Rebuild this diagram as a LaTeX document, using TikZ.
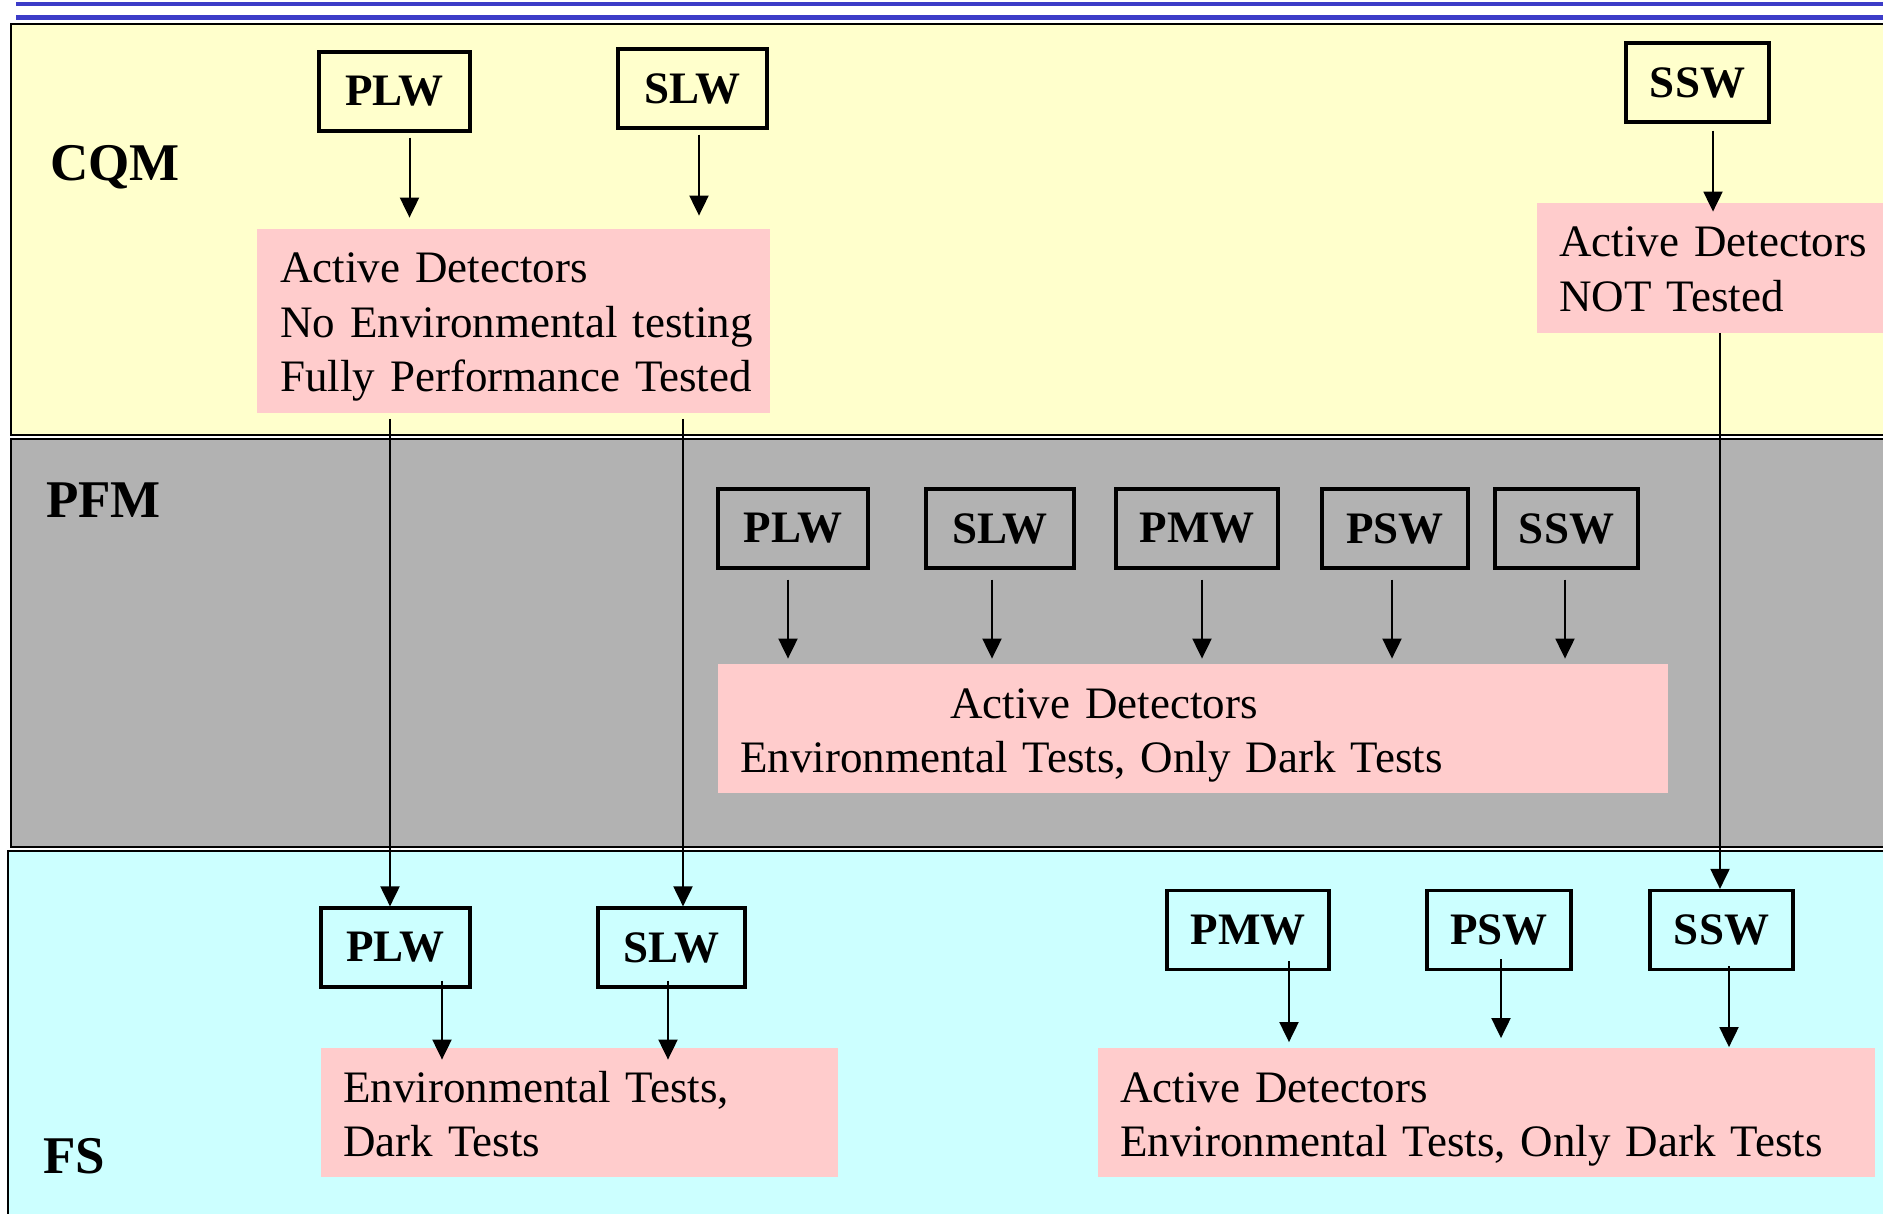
\documentclass[tikz,border=0pt]{standalone}
\usepackage{fontspec}
\setmainfont{Liberation Serif}
\usetikzlibrary{arrows.meta}

\definecolor{bandblue}{RGB}{60,60,200}
\definecolor{cqmfill}{RGB}{255,255,204}
\definecolor{pfmfill}{RGB}{178,178,178}
\definecolor{fsfill}{RGB}{204,255,255}
\definecolor{notefill}{RGB}{255,204,204}

\begin{document}
\begin{tikzpicture}[x=1pt,y=-1pt,
  panel/.style={draw=black, line width=2pt},
  unit/.style={draw=black, line width=3.2pt, minimum height=79pt, inner sep=0pt,
    font=\fontsize{45}{50}\selectfont\bfseries},
  notebox/.style={fill=notefill, anchor=north west, inner sep=0pt},
  notetext/.style={anchor=base west, align=left, inner sep=0pt, text width=#1,
    font=\fontsize{45}{54.5}\selectfont},
  phase/.style={anchor=base west, inner sep=0pt, font=\fontsize{53}{60}\selectfont\bfseries},
  flow/.style={line width=2pt, -{Triangle[length=20pt,width=19pt]}},
]
\useasboundingbox (0,0) rectangle (1883,1214);
\clip (0,0) rectangle (1883,1214);

% header rules
\draw[bandblue, line width=4.5pt] (16,4) -- (1900,4);
\draw[bandblue, line width=5pt] (16,18) -- (1900,18);

% phase bands
\draw[panel, fill=cqmfill] (11,24.5) rectangle (1910,435);
\draw[panel, fill=pfmfill] (11,439) rectangle (1910,847);
\draw[panel, fill=fsfill] (8,851) rectangle (1910,1240);

\node[phase] (lCQM) at (50,181) {CQM};
\node[phase] (lPFM) at (46,517) {PFM};
\node[phase] (lFS) at (43,1173) {FS};

% result notes
\node[notebox, minimum width=513pt, minimum height=184pt] (nCQM) at (257,229) {};
\node[notetext=480pt] (tCQM) at (280,283)
  {Active Detectors\\No Environmental testing\\Fully Performance Tested};

\node[notebox, minimum width=380pt, minimum height=130pt] (nCQMs) at (1537,203) {};
\node[notetext=320pt] (tCQMs) at (1559,257)
  {Active Detectors\\NOT Tested};

\node[notebox, minimum width=950pt, minimum height=129pt] (nPFM) at (718,664) {};
\node[notetext=900pt] (tPFM) at (740,718)
  {\hspace*{210pt}Active Detectors\\Environmental Tests, Only Dark Tests};

\node[notebox, minimum width=517pt, minimum height=129pt] (nFSa) at (321,1048) {};
\node[notetext=480pt] (tFSa) at (343,1102)
  {Environmental Tests,\\Dark Tests};

\node[notebox, minimum width=777pt, minimum height=129pt] (nFSb) at (1098,1048) {};
\node[notetext=740pt] (tFSb) at (1120,1102)
  {Active Detectors\\Environmental Tests, Only Dark Tests};

% CQM units
\node[unit, minimum width=151pt] (cPLW) at (394.5,91.5) {PLW};
\node[unit, minimum width=149pt] (cSLW) at (692.5,88.5) {SLW};
\node[unit, minimum width=143pt] (cSSW) at (1697.5,82.5) {SSW};

% PFM units
\node[unit, minimum width=150pt] (pPLW) at (793,528.5) {PLW};
\node[unit, minimum width=148pt] (pSLW) at (1000,528.5) {SLW};
\node[unit, minimum width=162pt] (pPMW) at (1197,528.5) {PMW};
\node[unit, minimum width=146pt] (pPSW) at (1395,528.5) {PSW};
\node[unit, minimum width=143pt] (pSSW) at (1566.5,528.5) {SSW};

% FS units
\node[unit, minimum width=149pt] (fPLW) at (395.5,947.5) {PLW};
\node[unit, minimum width=147pt] (fSLW) at (671.5,947.5) {SLW};
\node[unit, minimum width=162pt] (fPMW) at (1248,930) {PMW};
\node[unit, minimum width=144pt] (fPSW) at (1499,930) {PSW};
\node[unit, minimum width=143pt] (fSSW) at (1721.5,930) {SSW};

% unit -> note arrows
\draw[flow] ([xshift=15pt,yshift=-5pt]cPLW.south) -- ++(0,80);
\draw[flow] ([xshift=6.5pt,yshift=-5pt]cSLW.south) -- ++(0,81);
\draw[flow] ([xshift=15.5pt,yshift=-7pt]cSSW.south) -- ++(0,81);

\draw[flow] ([xshift=-5pt,yshift=-10pt]pPLW.south) -- ++(0,79);
\draw[flow] ([xshift=-8pt,yshift=-10pt]pSLW.south) -- ++(0,79);
\draw[flow] ([xshift=5pt,yshift=-10pt]pPMW.south) -- ++(0,79);
\draw[flow] ([xshift=-3pt,yshift=-10pt]pPSW.south) -- ++(0,79);
\draw[flow] ([xshift=-1.5pt,yshift=-10pt]pSSW.south) -- ++(0,79);

\draw[flow] ([xshift=46.5pt,yshift=8pt]fPLW.south) -- ++(0,79);
\draw[flow] ([xshift=-3.5pt,yshift=8pt]fSLW.south) -- ++(0,79);
\draw[flow] ([xshift=41pt,yshift=10pt]fPMW.south) -- ++(0,81);
\draw[flow] ([xshift=2pt,yshift=12pt]fPSW.south) -- ++(0,79);
\draw[flow] ([xshift=7.5pt,yshift=5pt]fSSW.south) -- ++(0,81);

% CQM units carried forward to FS
\coordinate (sPLW) at (390,419);
\coordinate (sSLW) at (683,419);
\coordinate (sSSW) at (1720,333);
\draw[flow] (sPLW) -- (sPLW |- fPLW.north);
\draw[flow] (sSLW) -- (sSLW |- fSLW.north);
\draw[flow] (sSSW) -- (sSSW |- fSSW.north);
\end{tikzpicture}
\end{document}
